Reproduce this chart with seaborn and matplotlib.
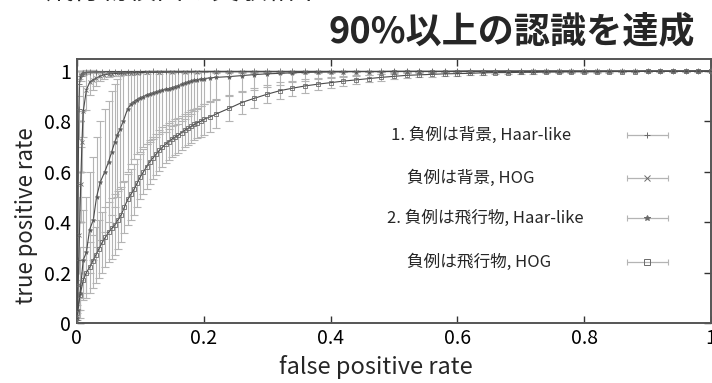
import matplotlib
matplotlib.use("Agg")
import matplotlib.pyplot as plt
import seaborn as sns
import pandas as pd
import numpy as np

# ---------------- data ----------------
TAIL_X = [0.22, 0.24, 0.26, 0.28, 0.30, 0.32, 0.34, 0.36, 0.38, 0.40,
          0.42, 0.44, 0.46, 0.48, 0.50, 0.52, 0.54, 0.56, 0.58, 0.60,
          0.62, 0.64, 0.66, 0.68, 0.70, 0.72, 0.74, 0.76, 0.78, 0.80,
          0.82, 0.84, 0.86, 0.88, 0.90, 0.92, 0.94, 0.96, 0.98, 1.00]

# 1. background negatives, Haar-like
x1 = [0.0, 0.001, 0.002, 0.003, 0.004, 0.006, 0.008, 0.01, 0.015, 0.02,
      0.03, 0.04, 0.05, 0.06, 0.07, 0.08, 0.09, 0.10, 0.12, 0.14, 0.16,
      0.18, 0.20] + TAIL_X
y1 = [0.01, 0.25, 0.55, 0.85, 0.95, 0.98, 0.99, 0.993, 0.995, 0.996,
      0.997, 0.997, 0.998, 0.998, 0.998, 0.998, 0.998, 0.998, 0.999, 0.999, 0.999,
      0.999, 0.999] + [0.999] * 20 + [1.0] * 20
e1 = [0.01, 0.2, 0.25, 0.12, 0.05, 0.02, 0.01, 0.008, 0.006, 0.005,
      0.004, 0.004, 0.004, 0.004, 0.004, 0.004, 0.004, 0.004, 0.003, 0.003, 0.003,
      0.003, 0.003] + [0.002] * 20 + [0.001] * 20

# background negatives, HOG
x2 = [0.0, 0.002, 0.004, 0.006, 0.008, 0.01, 0.015, 0.02, 0.025, 0.03,
      0.036, 0.042, 0.05, 0.056, 0.065, 0.075, 0.085, 0.095, 0.11, 0.13,
      0.15, 0.17, 0.19] + TAIL_X
y2 = [0.02, 0.15, 0.35, 0.55, 0.72, 0.84, 0.925, 0.955, 0.965, 0.971,
      0.979, 0.985, 0.988, 0.99, 0.991, 0.992, 0.993, 0.994, 0.995, 0.995,
      0.996, 0.996, 0.997] + [0.997] * 10 + [0.998] * 15 + [0.999] * 15
e2 = [0.02, 0.1, 0.15, 0.15, 0.12, 0.1, 0.08, 0.05, 0.04, 0.03,
      0.02, 0.015, 0.012, 0.01, 0.01, 0.008, 0.008, 0.007, 0.006, 0.006,
      0.005, 0.005, 0.005] + [0.004] * 10 + [0.003] * 15 + [0.002] * 15

# 2. flying-object negatives, Haar-like
x3 = [0.0, 0.002, 0.005, 0.01, 0.015, 0.02, 0.026, 0.031, 0.037, 0.044,
      0.05, 0.055, 0.06, 0.064, 0.068, 0.073, 0.08, 0.085, 0.09, 0.095,
      0.10, 0.105, 0.11, 0.115, 0.12, 0.125, 0.13, 0.135, 0.14, 0.145,
      0.15, 0.155, 0.16, 0.165, 0.17, 0.175, 0.18, 0.185, 0.19, 0.195,
      0.20, 0.21] + TAIL_X
y3 = [0.02, 0.05, 0.12, 0.25, 0.28, 0.37, 0.41, 0.50, 0.56, 0.60,
      0.64, 0.68, 0.72, 0.745, 0.77, 0.80, 0.85, 0.868, 0.878, 0.887,
      0.893, 0.899, 0.905, 0.909, 0.913, 0.917, 0.92, 0.924, 0.927, 0.930,
      0.934, 0.938, 0.942, 0.947, 0.952, 0.956, 0.96, 0.963, 0.966, 0.968,
      0.970, 0.973,
      0.975, 0.978, 0.982, 0.986, 0.989, 0.991, 0.993, 0.995, 0.996, 0.997,
      0.997, 0.998, 0.998, 0.998, 0.999, 0.999, 0.999, 0.999, 0.999, 1.0,
      1.0, 1.0, 1.0, 1.0, 1.0, 1.0, 1.0, 1.0, 1.0, 1.0,
      1.0, 1.0, 1.0, 1.0, 1.0, 1.0, 1.0, 1.0, 1.0, 1.0]
lo3 = [0.0, 0.0, 0.02, 0.10, 0.12, 0.20, 0.25, 0.30, 0.33, 0.36,
       0.40, 0.43, 0.46, 0.50, 0.53, 0.56, 0.60, 0.63, 0.65, 0.67,
       0.68, 0.70, 0.71, 0.72, 0.73, 0.74, 0.75, 0.76, 0.76, 0.77,
       0.78, 0.785, 0.79, 0.80, 0.81, 0.82, 0.83, 0.84, 0.85, 0.86,
       0.87, 0.88,
       0.89, 0.905, 0.915, 0.925, 0.935, 0.945, 0.955, 0.962, 0.968, 0.974,
       0.978, 0.982, 0.985, 0.988, 0.99, 0.992, 0.993, 0.994, 0.995, 0.996,
       0.997, 0.997, 0.997, 0.998, 0.998, 0.998, 0.998, 0.998, 0.998, 0.999,
       0.999, 0.999, 0.999, 0.999, 0.999, 0.999, 0.999, 0.999, 0.999, 0.999]
hi3 = [0.05, 0.15, 0.30, 0.45, 0.50, 0.60, 0.66, 0.74, 0.80, 0.85,
       0.88, 0.92, 0.95, 0.97, 0.98, 0.99] + [1.0] * 66

# flying-object negatives, HOG
x4 = [0.0, 0.005, 0.01, 0.015, 0.02, 0.025, 0.03, 0.035, 0.04, 0.045,
      0.05, 0.055, 0.06, 0.065, 0.07, 0.075, 0.08, 0.085, 0.09, 0.095,
      0.10, 0.105, 0.11, 0.115, 0.12, 0.125, 0.13, 0.135, 0.14, 0.145,
      0.15, 0.155, 0.16, 0.165, 0.17, 0.175, 0.18, 0.185, 0.19, 0.195,
      0.20, 0.21] + TAIL_X
y4 = [0.04, 0.11, 0.17, 0.20, 0.22, 0.245, 0.27, 0.295, 0.32, 0.34,
      0.36, 0.375, 0.39, 0.41, 0.43, 0.46, 0.49, 0.51, 0.53, 0.555,
      0.58, 0.60, 0.62, 0.64, 0.655, 0.67, 0.685, 0.698, 0.71, 0.72,
      0.73, 0.738, 0.745, 0.755, 0.765, 0.772, 0.78, 0.788, 0.795, 0.80,
      0.808, 0.818,
      0.83, 0.852, 0.875, 0.892, 0.908, 0.922, 0.932, 0.941, 0.948, 0.954,
      0.96, 0.965, 0.97, 0.975, 0.979, 0.983, 0.985, 0.987, 0.989, 0.990,
      0.991, 0.993, 0.994, 0.994, 0.995, 0.995, 0.996, 0.996, 0.997, 0.997,
      0.997, 0.998, 0.998, 0.998, 0.999, 0.999, 0.999, 0.999, 1.0, 1.0]
e4 = [0.03, 0.06, 0.08, 0.10, 0.10, 0.105, 0.11, 0.115, 0.12, 0.12,
      0.12, 0.12, 0.12, 0.115, 0.11, 0.105, 0.10, 0.10, 0.10, 0.095,
      0.09, 0.09, 0.09, 0.088, 0.085, 0.082, 0.08, 0.078, 0.075, 0.072,
      0.07, 0.07, 0.07, 0.068, 0.065, 0.065, 0.065, 0.062, 0.06, 0.06,
      0.06, 0.058,
      0.055, 0.05, 0.045, 0.04, 0.035, 0.033, 0.03, 0.028, 0.025, 0.023,
      0.02, 0.018, 0.015, 0.014, 0.012, 0.011, 0.01, 0.01, 0.009, 0.008,
      0.008, 0.007, 0.007, 0.006, 0.006, 0.005, 0.005, 0.005, 0.004, 0.004,
      0.004, 0.004, 0.003, 0.003, 0.003, 0.003, 0.002, 0.002, 0.002, 0.002]

LABELS = ["1. 負例は背景, Haar-like", "負例は背景, HOG",
          "2. 負例は飛行物, Haar-like", "負例は飛行物, HOG"]
TITLE = "90%以上の認識を達成"
XTICKS = [0, 0.2, 0.4, 0.6, 0.8, 1]
YTICKS = [0, 0.2, 0.4, 0.6, 0.8, 1]
TICK_LABELS = ["0", "0.2", "0.4", "0.6", "0.8", "1"]

# ---------------- plot ----------------
sns.set_style("ticks")
FONT = ["Noto Sans CJK JP", "DejaVu Sans"]
plt.rcParams["font.family"] = FONT

fig = plt.figure(figsize=(7.12, 3.83), dpi=100)
ax = fig.add_axes([0.108, 0.157, 0.8905, 0.689])

BAR = "#b4b4b4"
LINE = "#4a4a4a"
MK = "#6a6a6a"

series = [
    (x1, y1, [e1, e1], "+", 4.5),
    (x2, y2, [e2, e2], "x", 3.5),
    (x3, y3, [list(np.subtract(y3, lo3)), list(np.subtract(hi3, y3))], "*", 3.2),
    (x4, y4, [e4, e4], "s", 3.5),
]

for xs, ys, err, m, ms in series:
    ax.errorbar(xs, ys, yerr=err, fmt="none", ecolor=BAR, elinewidth=0.8,
                capsize=3, capthick=0.8, zorder=1)

for xs, ys, err, m, ms in series:
    df = pd.DataFrame({"fpr": xs, "tpr": ys})
    kw = dict(marker=m, markersize=ms, markeredgewidth=0.6,
              markeredgecolor=MK)
    if m == "s":
        kw["markerfacecolor"] = "none"
    sns.lineplot(data=df, x="fpr", y="tpr", ax=ax, color=LINE, lw=0.8,
                 sort=False, estimator=None, zorder=3, **kw)

ax.set_xlim(0, 1)
ax.set_ylim(0, 1.048)
ax.set_xticks(XTICKS)
ax.set_xticklabels(TICK_LABELS)
ax.set_yticks(YTICKS)
ax.set_yticklabels(TICK_LABELS)
ax.tick_params(direction="in", length=5, width=1, colors="#333333",
               labelsize=14, top=True, right=True, pad=4)
for t in ax.get_xticklabels() + ax.get_yticklabels():
    t.set_color("black")
for s in ax.spines.values():
    s.set_linewidth(1.4)
    s.set_color("#555555")
    s.set_visible(True)

ax.set_xlabel("false positive rate", fontsize=17, labelpad=2)
ax.xaxis.set_label_coords(0.472, -0.12)
ax.set_ylabel("true positive rate", fontsize=16)
ax.yaxis.set_label_coords(-0.062, 0.405)

# key (gnuplot style, labels left of sample)
key_y = [0.712, 0.549, 0.398, 0.231]
label_x = [0.495, 0.52, 0.489, 0.52]
markers = ["+", "x", "*", "s"]
for ky, lx, lab, m in zip(key_y, label_x, LABELS, markers):
    ax.text(lx, ky, lab, transform=ax.transAxes, ha="left", va="center",
            fontsize=12)
    ax.plot([0.867, 0.932], [ky, ky], transform=ax.transAxes, color=BAR,
            lw=0.9, zorder=4)
    ax.plot([0.867, 0.932], [ky, ky], transform=ax.transAxes, ls="none",
            marker="|", ms=5, mew=0.8, color=BAR, zorder=4)
    ax.plot([0.8995], [ky], transform=ax.transAxes, ls="none", marker=m,
            ms=4, mew=0.7, color=MK, mfc="none" if m == "s" else MK, zorder=5)

fig.text(0.976, 0.918, TITLE, ha="right", va="center", fontsize=26,
         fontweight="bold")
fig.text(0.063, 0.984, "飛行物検出の実験結果", ha="left", va="bottom",
         fontsize=20)

fig.savefig("out.png", dpi=100)
